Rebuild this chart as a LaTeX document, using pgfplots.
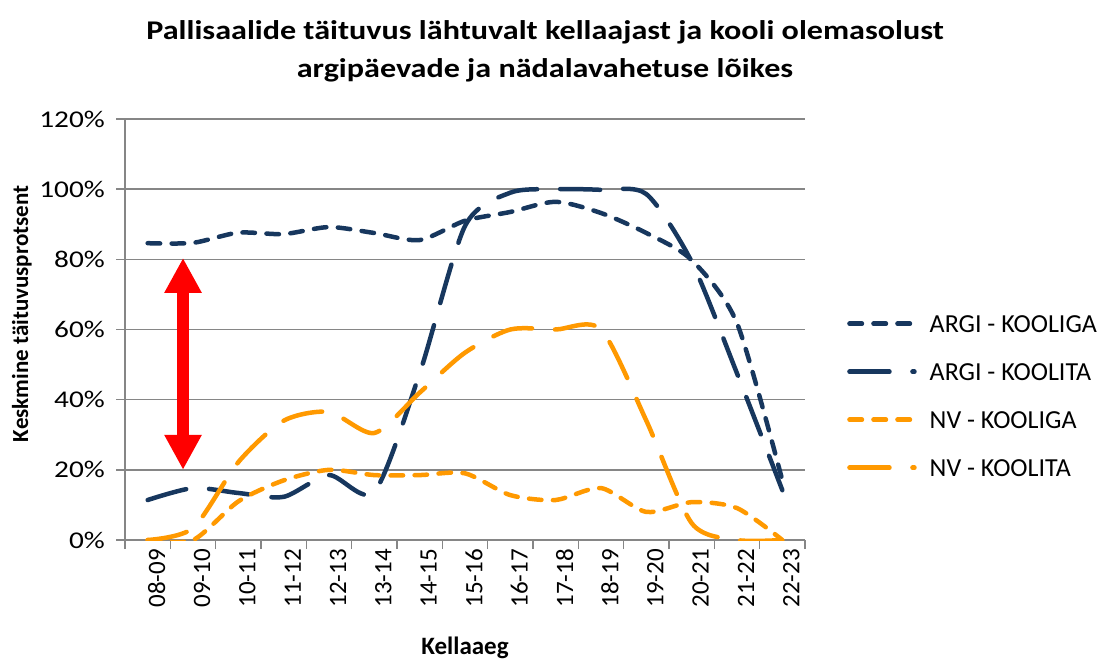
\documentclass[border=0pt]{standalone}
\usepackage{fontspec}
\setmainfont{Carlito}
\newfontfamily\yfont[FakeStretch=1.22]{Carlito}
\newfontfamily\tfont[FakeStretch=1.19]{Carlito Bold}
\usepackage{pgfplots}
\pgfplotsset{compat=1.18}
\usetikzlibrary{arrows.meta}
\definecolor{navy}{RGB}{23,55,94}
\definecolor{orng}{RGB}{255,153,0}
\definecolor{gridc}{RGB}{134,134,134}
\begin{document}
\begin{tikzpicture}[x=1pt,y=1pt]
\path[use as bounding box] (0,0) rectangle (1099,661);
\begin{axis}[
  at={(125pt,121pt)}, anchor=south west,
  scale only axis, width=680pt, height=421pt,
  xmin=-0.5, xmax=14.5, ymin=0, ymax=120,
  axis x line*=bottom, axis y line*=left,
  axis line style={gridc, line width=1.5pt, -},
  ymajorgrids, grid style={gridc, line width=1.5pt},
  xtick={0,...,14},
  xticklabels={08-09,09-10,10-11,11-12,12-13,13-14,14-15,15-16,16-17,17-18,18-19,19-20,20-21,21-22,22-23},
  minor xtick={-0.5,0.5,...,14.5},
  major x tick style={draw=none},
  ytick={0,20,...,120},
  yticklabels={0\%,20\%,40\%,60\%,80\%,100\%,120\%},
  tick style={gridc, line width=1.5pt},
  tick align=outside, major tick length=9pt, minor tick length=9pt,
  xticklabel style={rotate=90, anchor=east, inner sep=0pt, yshift=-9pt, font=\fontsize{25}{25}\selectfont},
  yticklabel style={anchor=east, inner sep=0pt, xshift=-11pt, font=\yfont\fontsize{24}{24}\selectfont},
  title={Pallisaalide täituvus lähtuvalt kellaajast ja kooli olemasolust\\argipäevade ja nädalavahetuse lõikes},
  title style={at={(axis description cs:0.6176,1.221)}, anchor=north, align=center, inner sep=0pt, font=\tfont\fontsize{27}{38}\selectfont},
  xlabel={Kellaaeg},
  xlabel style={at={(axis description cs:0.5,-0.271)}, anchor=base, inner sep=0pt, font=\bfseries\fontsize{25}{25}\selectfont},
  ylabel={Keskmine täituvusprotsent},
  ylabel style={at={(axis description cs:-0.1515,0.537)}, anchor=center, inner sep=0pt, font=\bfseries\fontsize{23}{23}\selectfont},
  legend style={at={(axis description cs:1.0618,0.5344)}, anchor=north west, draw=none, fill=none, inner sep=0pt,
    row sep=31pt, font=\fontsize{26}{26}\selectfont,
    nodes={inner sep=0pt, text height=17pt, text depth=0pt},
    /tikz/every odd column/.append style={column sep=13pt}},
  legend cell align=left,
  legend image code/.code={\draw[#1] (0pt,0pt) -- (65pt,0pt);},
]
\addplot[navy, line width=4.5pt, line cap=round, smooth, tension=0.45, dash pattern=on 12.5pt off 11.5pt] coordinates {
(0,84.6) (1,84.7) (2,87.6) (3,87.2) (4,89.2) (5,87.5) (6,85.5) (7,91) (8,93.5) (9,96.4) (10,93.2) (11,87.5) (12,79.8) (13,61.8) (14,17)};
\addlegendentry{ARGI - KOOLIGA}
\addplot[navy, line width=4.5pt, line cap=round, smooth, tension=0.45, dash pattern=on 40pt off 23pt] coordinates {
(0,11.4) (1,14.8) (2,13.4) (3,12.3) (4,18.5) (5,13.7) (6,47.5) (7,89.5) (8,99) (9,100) (10,99.8) (11,98.6) (12,79.3) (13,47.5) (14,14.2)};
\addlegendentry{ARGI - KOOLITA}
\addplot[orng, line width=4.5pt, line cap=round, smooth, tension=0.45, dash pattern=on 12.5pt off 11.5pt] coordinates {
(0,0) (1,0) (2,11) (3,17) (4,20) (5,18.5) (6,18.5) (7,19) (8,12.8) (9,11.4) (10,14.8) (11,8) (12,10.8) (13,9.1) (14,0)};
\addlegendentry{NV - KOOLIGA}
\addplot[orng, line width=4.5pt, line cap=round, smooth, tension=0.45, dash pattern=on 40pt off 23pt] coordinates {
(0,0) (1,3.4) (2,22.2) (3,34) (4,36.5) (5,30.5) (6,42) (7,53.4) (8,60) (9,60) (10,60) (11,34) (12,4.8) (13,0) (14,0)};
\addlegendentry{NV - KOOLITA}
\draw[red, line width=12pt, {Triangle[width=35pt,length=35pt]}-{Triangle[width=35pt,length=35pt]}] (axis cs:0.78,80.4) -- (axis cs:0.78,20);
\end{axis}
\end{tikzpicture}
\end{document}
